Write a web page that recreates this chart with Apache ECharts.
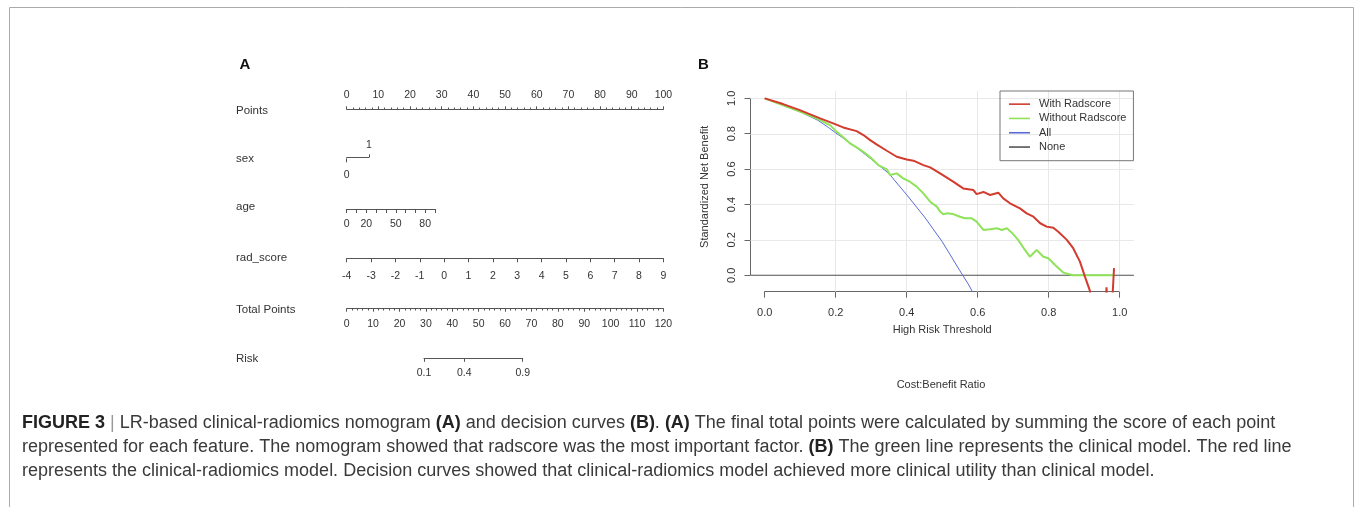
<!DOCTYPE html>
<html>
<head>
<meta charset="utf-8">
<script src="https://cdn.jsdelivr.net/npm/echarts@6/dist/echarts.min.js"></script>
<style>
html, body { margin: 0; padding: 0; background: #fff; }
#main { width: 1355px; height: 507px; }
</style>
</head>
<body>
<div id="main"></div>
<script>
// ---- nomogram scales (A) ----
var rowNames = ['Points', 'sex', 'age', 'rad_score', 'Total Points', 'Risk'];
var pointsRange = [0, 100];
var sexLevels = [0, 1];
var ageTicks = [0, 10, 20, 30, 40, 50, 60, 70, 80, 90];
var ageLabels = [0, 20, 50, 80];
var radScoreRange = [-4, 9];
var totalPointsRange = [0, 120];
var riskLabels = [0.1, 0.4, 0.9];

// ---- decision curves (B) ----
var thrRed = [0, 0.052, 0.099, 0.156, 0.193, 0.221, 0.259, 0.278, 0.297, 0.315, 0.344, 0.372, 0.4, 0.419, 0.447,
    0.466, 0.494, 0.531, 0.559, 0.588, 0.597, 0.616, 0.635, 0.658, 0.672, 0.691, 0.719, 0.738, 0.757, 0.776,
    0.794, 0.813, 0.827, 0.851, 0.869, 0.888, 0.902, 0.916, 0.93, 0.955, 0.963, 0.967, 0.975, 0.984];
var nbRed = [1, 0.968, 0.934, 0.887, 0.859, 0.836, 0.815, 0.793, 0.764, 0.74, 0.704, 0.67, 0.655, 0.648, 0.623,
    0.61, 0.576, 0.529, 0.491, 0.482, 0.459, 0.471, 0.454, 0.467, 0.435, 0.407, 0.378, 0.35, 0.331, 0.294,
    0.275, 0.269, 0.246, 0.2, 0.153, 0.077, -0.008, -0.087, -0.3, -0.3, -0.068, -0.3, -0.3, 0.04];
var thrGreen = [0, 0.099, 0.146, 0.184, 0.203, 0.221, 0.24, 0.259, 0.278, 0.301, 0.32, 0.344, 0.353, 0.372, 0.39,
    0.409, 0.428, 0.447, 0.466, 0.485, 0.494, 0.503, 0.513, 0.531, 0.55, 0.564, 0.583, 0.597, 0.616, 0.635,
    0.654, 0.668, 0.682, 0.696, 0.714, 0.733, 0.747, 0.766, 0.785, 0.799, 0.818, 0.841, 0.855, 0.869, 0.984];
var nbGreen = [1, 0.925, 0.887, 0.849, 0.811, 0.78, 0.746, 0.723, 0.698, 0.661, 0.623, 0.599, 0.567, 0.576, 0.548,
    0.529, 0.501, 0.463, 0.416, 0.388, 0.36, 0.345, 0.35, 0.346, 0.331, 0.322, 0.322, 0.303, 0.256, 0.26,
    0.266, 0.256, 0.266, 0.241, 0.2, 0.143, 0.105, 0.143, 0.105, 0.096, 0.058, 0.015, 0.007, 0, 0];
var thrAll = [0, 0.1, 0.15, 0.18, 0.2, 0.25, 0.3, 0.35, 0.4, 0.45, 0.5, 0.55, 0.575, 0.6];
var nbAll = [1, 0.924, 0.876, 0.835, 0.805, 0.735, 0.657, 0.575, 0.455, 0.33, 0.19, 0.025, -0.055, -0.15];
var thrNone = [-0.04, 1.04];
var nbNone = [0, 0];
var gridX = [0.2, 0.4, 0.6, 0.8, 1.0];
var gridY = [0, 0.2, 0.4, 0.6, 0.8, 1.0];

var ink = '#333';
var axisInk = '#555';
var font = 'Liberation Sans';

function zip(a, b) {
    return a.map(function (x, i) { return [x, b[i]]; });
}
function logit(p) { return Math.log(p / (1 - p)); }

var grids = [], xAxes = [], yAxes = [];

function addGrid(left, top, width, height) {
    grids.push({ left: left, top: top, width: width, height: height, containLabel: false, outerBoundsMode: 'none' });
    return grids.length - 1;
}
function hiddenAxis(gi) {
    return { gridIndex: gi, type: 'value', show: false, min: 0, max: 1 };
}
function nomoAxis(gi, min, max, side, margin, o) {
    var ax = {
        gridIndex: gi, type: 'value', position: side, min: min, max: max,
        axisLine: { show: o.line !== false, onZero: false, lineStyle: { color: axisInk, width: 1 } },
        axisTick: { show: true, length: o.tickLen || 4, lineStyle: { color: axisInk, width: 1 } },
        axisLabel: { color: ink, fontSize: 10.5, fontFamily: font, margin: margin, hideOverlap: false, showMinLabel: true, showMaxLabel: true },
        splitLine: { show: false }
    };
    if (o.interval) ax.interval = o.interval;
    if (o.ticks) ax.axisTick.customValues = o.ticks;
    if (o.labels) ax.axisLabel.customValues = o.labels;
    if (o.formatter) ax.axisLabel.formatter = o.formatter;
    if (o.minor) ax.minorTick = { show: true, splitNumber: 5, length: 1.8, lineStyle: { color: axisInk, width: 1 } };
    return ax;
}

// nomogram rows
var g = addGrid(346.7, 109.3, 316.7, 1);
xAxes.push(nomoAxis(g, pointsRange[0], pointsRange[1], 'top', 9, { interval: 10, minor: true, tickLen: 3 }));
yAxes.push(hiddenAxis(g));

g = addGrid(346.7, 157.3, 22.2, 1);
xAxes.push(nomoAxis(g, sexLevels[0], sexLevels[1], 'top', 6.4, { ticks: [sexLevels[1]], labels: [sexLevels[1]], tickLen: 3 }));
xAxes.push(nomoAxis(g, sexLevels[0], sexLevels[1], 'bottom', 11.5, { ticks: [sexLevels[0]], labels: [sexLevels[0]], tickLen: 4, line: false }));
yAxes.push(hiddenAxis(g));

g = addGrid(346.7, 208, 88.3, 1);
xAxes.push(nomoAxis(g, ageTicks[0], ageTicks[ageTicks.length - 1], 'bottom', 10, { ticks: ageTicks, labels: ageLabels }));
yAxes.push(hiddenAxis(g));

g = addGrid(346.7, 257.3, 316.7, 1);
xAxes.push(nomoAxis(g, radScoreRange[0], radScoreRange[1], 'bottom', 12.4, { interval: 1 }));
yAxes.push(hiddenAxis(g));

g = addGrid(346.7, 307.7, 316.7, 1);
xAxes.push(nomoAxis(g, totalPointsRange[0], totalPointsRange[1], 'bottom', 10.3, { interval: 10, minor: true, tickLen: 3 }));
yAxes.push(hiddenAxis(g));

var riskLogit = riskLabels.map(logit);
g = addGrid(424, 357.3, 98.7, 1);
xAxes.push(nomoAxis(g, riskLogit[0], riskLogit[riskLogit.length - 1], 'bottom', 9.2, {
    ticks: riskLogit, labels: riskLogit, tickLen: 3.5,
    formatter: function (v) { return (1 / (1 + Math.exp(-v))).toFixed(1); }
}));
yAxes.push(hiddenAxis(g));

// decision curve plot region
var gD = addGrid(750.5, 90.9, 383.4, 200.7);
var ixD = xAxes.length, iyD = yAxes.length;
xAxes.push({ gridIndex: gD, type: 'value', show: false, min: -0.04, max: 1.04 });
yAxes.push({ gridIndex: gD, type: 'value', show: false, min: -0.0925, max: 1.0425 });

// x axis (0..1 only)
var gX = addGrid(764.7, 290.7, 355, 1);
xAxes.push({
    gridIndex: gX, type: 'value', position: 'bottom', min: 0, max: 1, interval: 0.2,
    name: 'High Risk Threshold', nameLocation: 'middle', nameGap: 32.8,
    nameTextStyle: { color: ink, fontSize: 11, fontFamily: font },
    axisLine: { show: true, onZero: false, lineStyle: { color: '#666' } },
    axisTick: { show: true, length: 6, lineStyle: { color: '#666' } },
    axisLabel: { color: ink, fontSize: 11, fontFamily: font, margin: 15.5, hideOverlap: false, showMinLabel: true, showMaxLabel: true,
        formatter: function (v) { return v.toFixed(1); } },
    splitLine: { show: false }
});
yAxes.push(hiddenAxis(gX));

// y axis (0..1 only)
var gY = addGrid(750.5, 98.3, 1, 177);
xAxes.push(hiddenAxis(gY));
yAxes.push({
    gridIndex: gY, type: 'value', position: 'left', min: 0, max: 1, interval: 0.2,
    name: 'Standardized Net Benefit', nameLocation: 'middle', nameGap: 40.5,
    nameTextStyle: { color: ink, fontSize: 11, fontFamily: font },
    axisLine: { show: true, onZero: false, lineStyle: { color: '#666' } },
    axisTick: { show: true, length: 6, lineStyle: { color: '#666' } },
    axisLabel: { color: ink, fontSize: 11, fontFamily: font, rotate: 90, margin: 13.5, hideOverlap: false, showMinLabel: true, showMaxLabel: true,
        formatter: function (v) { return v.toFixed(1); } },
    splitLine: { show: false }
});

function curve(name, x, y, color, width, z) {
    return {
        name: name, type: 'line', xAxisIndex: ixD, yAxisIndex: iyD,
        data: zip(x, y), symbol: 'none', showSymbol: false, animation: false, z: z,
        lineStyle: { color: color, width: width }, itemStyle: { color: color }
    };
}

var noneSeries = curve('None', thrNone, nbNone, '#555', 1, 3);
noneSeries.markLine = {
    silent: true, symbol: ['none', 'none'], z: 1, animation: false,
    label: { show: false },
    lineStyle: { color: '#e8e8e8', width: 1, type: 'solid' },
    emphasis: { disabled: true },
    data: gridX.map(function (v) { return { xAxis: v }; }).concat(gridY.map(function (v) { return { yAxis: v }; }))
};

var series = [
    noneSeries,
    curve('All', thrAll, nbAll, '#5a6bd6', 1, 4),
    curve('Without Radscore', thrGreen, nbGreen, '#8ee35a', 2, 5),
    curve('With Radscore', thrRed, nbRed, '#d23b2e', 2, 6)
];

var graphics = [
    { type: 'polyline', silent: true, shape: { points: [[9.5, 507], [9.5, 7.5], [1353.5, 7.5], [1353.5, 507]] },
      style: { stroke: '#aaa', lineWidth: 1, fill: null } },
    { type: 'text', x: 245, y: 65, style: { text: 'A', font: 'bold 15px "Liberation Sans"', fill: '#111', align: 'center', verticalAlign: 'middle' } },
    { type: 'text', x: 703.3, y: 65, style: { text: 'B', font: 'bold 15px "Liberation Sans"', fill: '#111', align: 'center', verticalAlign: 'middle' } },
    { type: 'text', x: 941, y: 385, style: { text: 'Cost:Benefit Ratio', font: '11px "Liberation Sans"', fill: ink, align: 'center', verticalAlign: 'middle' } }
];
var rowY = [110.7, 159.3, 207.3, 258.3, 310, 359.3];
rowNames.forEach(function (n, i) {
    graphics.push({ type: 'text', x: 236, y: rowY[i],
        style: { text: n, font: '11.5px "Liberation Sans"', fill: ink, align: 'left', verticalAlign: 'middle' } });
});

var captionLines = [
    '{b|FIGURE 3} {s||} LR-based clinical-radiomics nomogram {b|(A)} and decision curves {b|(B)}. {b|(A)} The final total points were calculated by summing the score of each point',
    'represented for each feature. The nomogram showed that radscore was the most important factor. {b|(B)} The green line represents the clinical model. The red line',
    'represents the clinical-radiomics model. Decision curves showed that clinical-radiomics model achieved more clinical utility than clinical model.'
];
var captionY = [423, 447, 471];
captionLines.forEach(function (t, i) {
    graphics.push({ type: 'text', x: 22, y: captionY[i],
        style: {
            text: t, fontSize: 18, fontFamily: font, fill: '#3a3a3a', align: 'left', verticalAlign: 'middle',
            rich: {
                b: { fontSize: 18, fontFamily: font, fontWeight: 'bold', fill: '#222', color: '#222' },
                s: { fontSize: 18, fontFamily: font, fill: '#999', color: '#999' }
            }
        } });
});

var chart = echarts.init(document.getElementById('main'), null, { renderer: 'canvas' });
chart.setOption({
    backgroundColor: '#fff',
    animation: false,
    textStyle: { fontFamily: font },
    grid: grids,
    xAxis: xAxes,
    yAxis: yAxes,
    legend: {
        data: ['With Radscore', 'Without Radscore', 'All', 'None'],
        orient: 'vertical', left: 1000, top: 91,
        borderColor: '#777', borderWidth: 1, borderRadius: 0,
        padding: [6, 7, 6.5, 9], itemWidth: 21, itemHeight: 14.3, itemGap: 0,
        icon: 'path://M0,0 L21,0 L21,1.6 L0,1.6 Z', symbolKeepAspect: true,
        selectedMode: false,
        textStyle: { color: ink, fontSize: 11, fontFamily: font, lineHeight: 14.3, padding: [0, 0, 0, 4] }
    },
    series: series,
    graphic: graphics
});
</script>
</body>
</html>
